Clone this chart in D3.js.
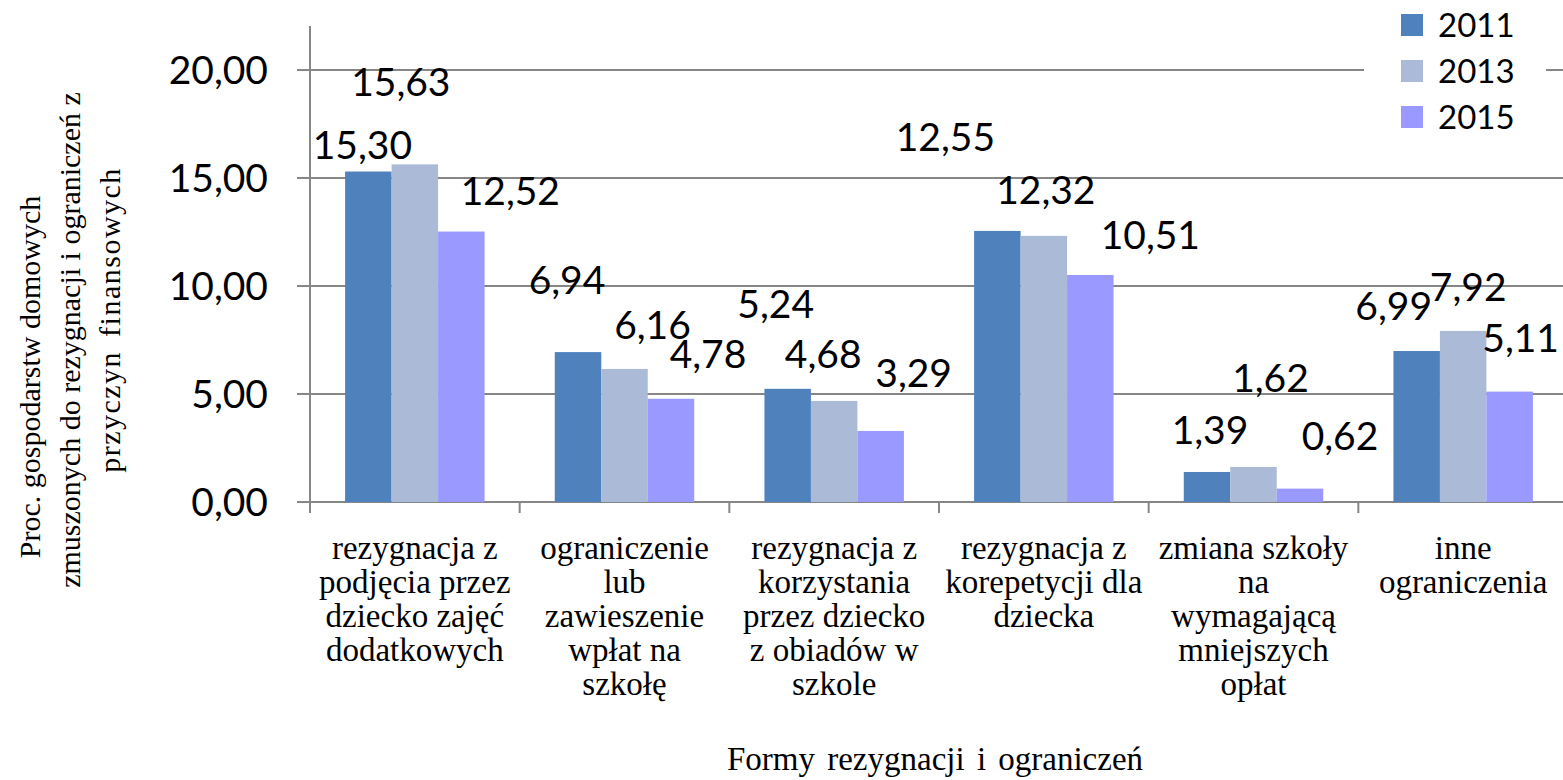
<!DOCTYPE html>
<html>
<head>
<meta charset="utf-8">
<script src="https://cdn.jsdelivr.net/npm/d3@7"></script>
<style>
body { margin: 0; background: #fff; }
svg { display: block; }
.serif { font-family: "Liberation Serif", "DejaVu Serif", serif; font-size: 30px; }
.sans { font-family: Lato, "Open Sans", sans-serif; }
</style>
</head>
<body>
<div id="chart"></div>
<script>
// data
var categories = [
  ["rezygnacja z", "podjęcia przez", "dziecko zajęć", "dodatkowych"],
  ["ograniczenie", "lub", "zawieszenie", "wpłat na", "szkołę"],
  ["rezygnacja z", "korzystania", "przez dziecko", "z obiadów w", "szkole"],
  ["rezygnacja z", "korepetycji dla", "dziecka"],
  ["zmiana szkoły", "na", "wymagającą", "mniejszych", "opłat"],
  ["inne", "ograniczenia"]
];
var years = ["2011", "2013", "2015"];
var v2011 = [15.30, 6.94, 5.24, 12.55, 1.39, 6.99];
var v2013 = [15.63, 6.16, 4.68, 12.32, 1.62, 7.92];
var v2015 = [12.52, 4.78, 3.29, 10.51, 0.62, 5.11];
var yTicks = [0, 5, 10, 15, 20];
var yTitle = ["Proc. gospodarstw domowych", "zmuszonych do rezygnacji i ograniczeń z", "przyczyn finansowych"];

var colors = ["#4f81bd", "#aabad7", "#9999ff"];
// label nudges (px) relative to top centre of each bar, Excel labels were moved by hand
var nudgeX = [
  [-6, -11, -12, -52, 3, -23],
  [-14, 28, -11, 2, 17, 5],
  [49, 37, 33, 60, 40, 11]
];
var nudgeY = [
  [-26, -72, -84, -94, -42, -45],
  [-82, -44, -47, -46, -89, -44],
  [-40, -44, -58, -40, -52, -53]
];
// the three title lines are not centred on the same point in the original
var titleCentre = [377, 340, 320];

var W = 1563, H = 780;
var margin = {top: 26, left: 310, right: -5, bottom: 278};
var plotW = W - margin.left - margin.right,
    plotH = H - margin.top - margin.bottom;

var svg = d3.select("#chart").append("svg")
  .attr("width", W)
  .attr("height", H);

var g = svg.append("g")
  .attr("transform", "translate(" + margin.left + "," + margin.top + ")");

var series = [v2011, v2013, v2015];

var x0 = d3.scaleBand()
  .domain(d3.range(categories.length))
  .range([0, plotW])
  .paddingInner(0)
  .paddingOuter(0);

var x1 = d3.scaleBand()
  .domain(d3.range(years.length))
  .range([0, x0.bandwidth()])
  .paddingInner(0)
  .paddingOuter(0.755);

// 20 sits at y=70, 0 at y=502
var y = d3.scaleLinear()
  .domain([0, 20])
  .range([plotH, 70 - margin.top]);

var fmt = function(v) { return d3.format(".2f")(v).replace(".", ","); };

// gridlines
g.append("g")
  .selectAll("line")
  .data(yTicks)
  .enter()
  .append("line")
  .attr("x1", -13)
  .attr("x2", plotW)
  .attr("y1", function(d) { return y(d); })
  .attr("y2", function(d) { return y(d); })
  .attr("stroke", "#868686")
  .attr("stroke-width", 2);

// y tick labels
g.append("g")
  .selectAll("text")
  .data(yTicks)
  .enter()
  .append("text")
  .attr("class", "sans")
  .attr("x", -42)
  .attr("y", function(d) { return y(d); })
  .attr("dy", "0.35em")
  .attr("text-anchor", "end")
  .style("font-size", "39px")
  .text(function(d) { return fmt(d); });

// bars
var groups = g.append("g")
  .selectAll("g")
  .data(series)
  .enter()
  .append("g")
  .attr("fill", function(d, i) { return colors[i]; });

groups.selectAll("rect")
  .data(function(d, i) { return d.map(function(v, c) { return {v: v, c: c, s: i}; }); })
  .enter()
  .append("rect")
  .attr("x", function(d) { return x0(d.c) + x1(d.s); })
  .attr("width", x1.bandwidth())
  .attr("y", function(d) { return y(d.v); })
  .attr("height", function(d) { return y(0) - y(d.v); });

// axes lines
g.append("line")
  .attr("x1", 0).attr("x2", 0)
  .attr("y1", 0).attr("y2", plotH + 11)
  .attr("stroke", "#868686").attr("stroke-width", 2);

g.append("g")
  .selectAll("line")
  .data(d3.range(1, categories.length))
  .enter()
  .append("line")
  .attr("x1", function(d) { return x0(d); })
  .attr("x2", function(d) { return x0(d); })
  .attr("y1", plotH)
  .attr("y2", plotH + 11)
  .attr("stroke", "#868686").attr("stroke-width", 2);

// data labels
groups.selectAll("text")
  .data(function(d, i) { return d.map(function(v, c) { return {v: v, c: c, s: i}; }); })
  .enter()
  .append("text")
  .attr("class", "sans")
  .attr("x", function(d) { return x0(d.c) + x1(d.s) + x1.bandwidth() / 2 + nudgeX[d.s][d.c]; })
  .attr("y", function(d) { return y(d.v) + nudgeY[d.s][d.c]; })
  .attr("dy", "0.35em")
  .attr("text-anchor", "middle")
  .attr("fill", "#000")
  .style("font-size", "39px")
  .text(function(d) { return fmt(d.v); });

// category labels
var cat = g.append("g")
  .selectAll("text")
  .data(categories)
  .enter()
  .append("text")
  .attr("class", "serif")
  .style("font-size", "33px")
  .attr("x", function(d, i) { return x0(i) + x0.bandwidth() / 2; })
  .attr("y", plotH + 57)
  .attr("text-anchor", "middle");

cat.selectAll("tspan")
  .data(function(d) { return d; })
  .enter()
  .append("tspan")
  .attr("x", function() { return d3.select(this.parentNode).attr("x"); })
  .attr("dy", function(d, i) { return i === 0 ? 0 : 34; })
  .text(function(d) { return d; });

// x axis title
svg.append("text")
  .attr("class", "serif")
  .style("font-size", "33px")
  .style("word-spacing", "4px")
  .attr("x", 935)
  .attr("y", 770)
  .attr("text-anchor", "middle")
  .text("Formy rezygnacji i ograniczeń");

// y axis title
svg.append("text")
  .attr("class", "serif")
  .attr("transform", "translate(40,0) rotate(-90)")
  .attr("text-anchor", "middle")
  .selectAll("tspan")
  .data(yTitle)
  .enter()
  .append("tspan")
  .attr("x", function(d, i) { return -titleCentre[i]; })
  .attr("dy", function(d, i) { return i === 0 ? 0 : 40; })
  .style("word-spacing", function(d, i) { return i === 2 ? "5px" : null; })
  .style("letter-spacing", function(d, i) { return i === 2 ? "1.5px" : null; })
  .text(function(d) { return d; });

// legend
var legend = svg.append("g").attr("transform", "translate(1364,0)");
legend.append("rect")
  .attr("width", 182).attr("height", 140)
  .attr("fill", "#fff");
var li = legend.selectAll("g.item")
  .data(years)
  .enter()
  .append("g")
  .attr("class", "item")
  .attr("transform", function(d, i) { return "translate(0," + (25 + i * 46) + ")"; });
li.append("rect")
  .attr("x", 37).attr("y", -11)
  .attr("width", 22).attr("height", 22)
  .attr("fill", function(d, i) { return colors[i]; });
li.append("text")
  .attr("class", "sans")
  .attr("x", 74)
  .attr("dy", "0.35em")
  .style("font-size", "33px")
  .text(function(d) { return d; });
</script>
</body>
</html>
